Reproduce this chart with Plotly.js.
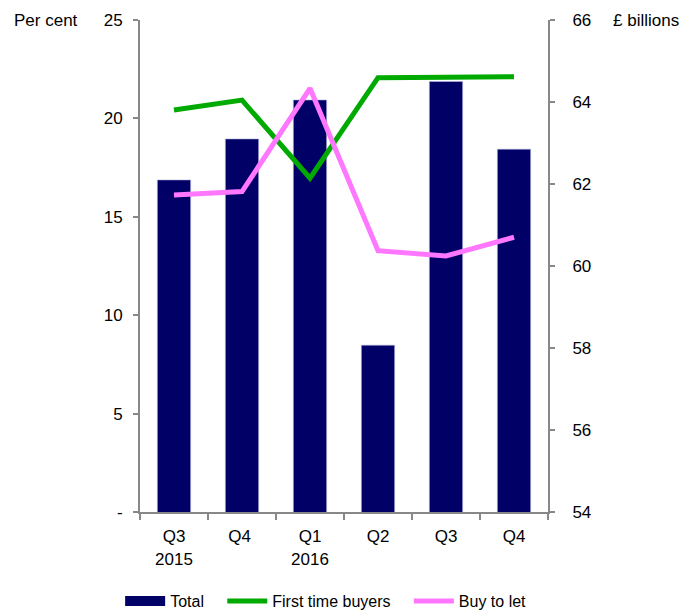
<!DOCTYPE html>
<html>
<head>
<meta charset="utf-8">
<script src="https://cdn.plot.ly/plotly-3.0.1.min.js"></script>
<style>html,body{margin:0;padding:0;background:#fff;}#chart{width:686px;height:614px;}</style>
</head>
<body>
<div id="chart"></div>
<script>
const categories = ["Q3<br>2015", "Q4 ", "Q1<br>2016", "Q2", "Q3", "Q4"];
const totalBillions = [62.1, 63.1, 64.05, 58.07, 64.5, 62.85];
const firstTimeBuyers = [20.43, 20.93, 16.96, 22.07, 22.09, 22.12];
const buyToLet = [16.11, 16.28, 21.53, 13.28, 13.01, 13.96];
const leftTickVals = [0, 5, 10, 15, 20, 25];
const leftTickText = ["-", "5", "10", "15", "20", "25"];
const rightTickVals = [54, 56, 58, 60, 62, 64, 66];

const font = {family: "Liberation Sans, Arial, sans-serif", size: 17, color: "#000"};
const legendFont = {family: "Liberation Sans, Arial, sans-serif", size: 16, color: "#000"};
const pad = "\u00a0\u00a0\u00a0";

const traces = [
  {type: "bar", name: "Total", x: categories, y: totalBillions, yaxis: "y", showlegend: false,
   marker: {color: "#000066", line: {color: "#b8b8e0", width: 0.6}}},
  // legend swatch proxy for the bars (wide rectangle as in the reference)
  {type: "scatter", mode: "lines", name: "Total" + pad, x: categories, y: categories.map(() => null), yaxis: "y2",
   line: {color: "#000066", width: 10}, hoverinfo: "skip"},
  {type: "scatter", mode: "lines", name: "First time buyers" + pad, x: categories, y: firstTimeBuyers, yaxis: "y2",
   line: {color: "#00AA00", width: 5}},
  {type: "scatter", mode: "lines", name: "Buy to let", x: categories, y: buyToLet, yaxis: "y2",
   line: {color: "#FF77FF", width: 5}}
];

const layout = {
  width: 686, height: 614,
  margin: {l: 140, r: 138, t: 20, b: 102, autoexpand: false},
  paper_bgcolor: "#fff", plot_bgcolor: "#fff",
  font: font,
  showlegend: true,
  bargap: 0.51,
  legend: {orientation: "h", x: 0.455, xanchor: "center", y: -0.181, yanchor: "middle",
           font: legendFont, traceorder: "normal", itemwidth: 40},
  xaxis: {type: "category", showline: true, linecolor: "#888", linewidth: 2,
          ticks: "outside", tickson: "boundaries", ticklen: 6, tickcolor: "#888", tickwidth: 2,
          ticklabelstandoff: 8,
          showgrid: false, zeroline: false, tickfont: font, fixedrange: true},
  yaxis: {side: "right", range: [54, 66], tickvals: rightTickVals, showline: true, linecolor: "#888", linewidth: 2,
          ticks: "outside", ticklen: 5, tickcolor: "#888", tickwidth: 2, ticklabelstandoff: 14,
          showgrid: false, zeroline: false, tickfont: font},
  yaxis2: {side: "left", overlaying: "y", range: [0, 25], tickvals: leftTickVals, ticktext: leftTickText,
           showline: true, linecolor: "#888", linewidth: 2,
           ticks: "outside", ticklen: 5, tickcolor: "#888", tickwidth: 2, ticklabelstandoff: 7,
           showgrid: false, zeroline: false, tickfont: font},
  annotations: [
    {text: "Per cent", xref: "paper", yref: "paper", x: -0.23, y: 1.0, xanchor: "center", yanchor: "middle",
     showarrow: false, font: font},
    {text: "£ billions", xref: "paper", yref: "paper", x: 1.24, y: 1.0, xanchor: "center", yanchor: "middle",
     showarrow: false, font: font}
  ]
};

Plotly.newPlot("chart", traces, layout, {displayModeBar: false, staticPlot: true});
</script>
</body>
</html>
